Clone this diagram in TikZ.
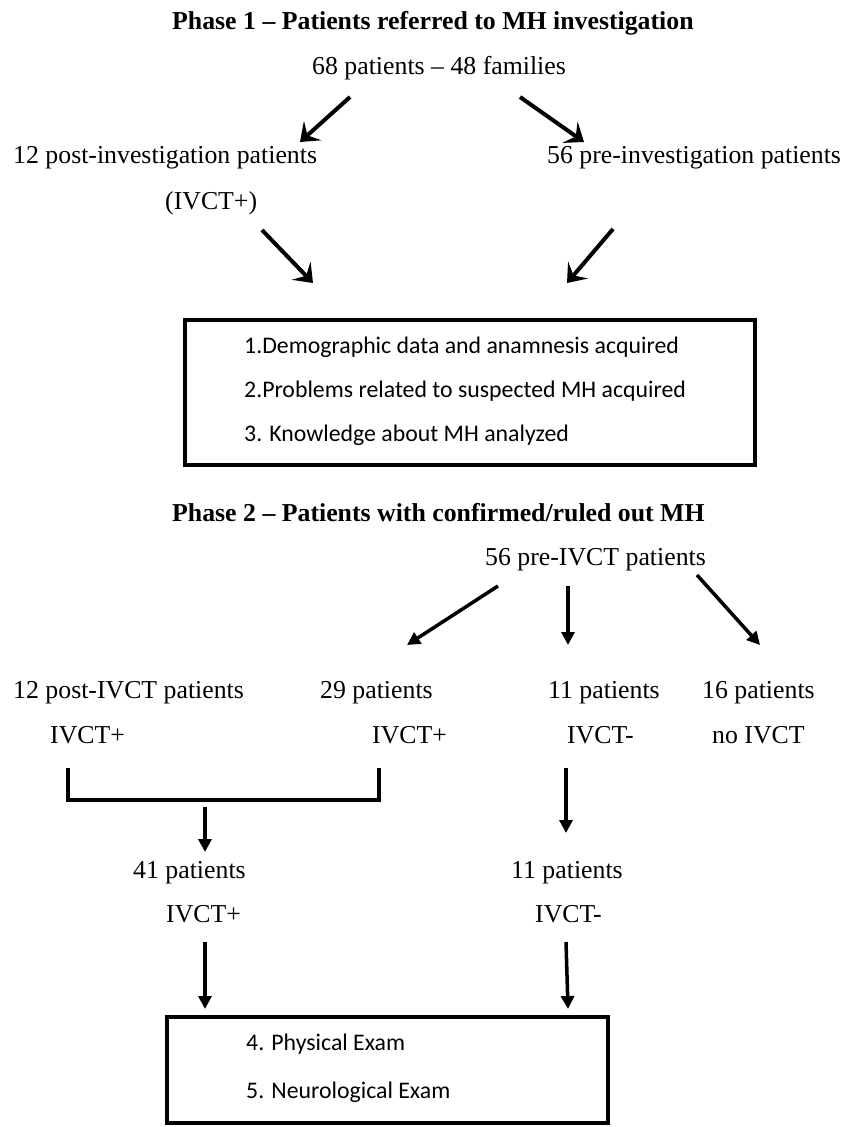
\documentclass[tikz,border=0pt]{standalone}
\usepackage{fontspec}
\setmainfont{Liberation Serif}
\newfontfamily\boxfont{Carlito}
\usetikzlibrary{calc,positioning,arrows.meta}

\begin{document}
\begin{tikzpicture}[x=1pt, y=-1pt,
    txt/.style = {anchor=base west, inner sep=0pt, font=\fontsize{25.8}{30}\selectfont},
    ttl/.style = {anchor=base west, inner sep=0pt, font=\fontsize{25.8}{30}\selectfont\bfseries},
    itm/.style = {anchor=base west, inner sep=0pt, font=\boxfont\fontsize{23.8}{28}\selectfont},
    panel/.style = {draw, line width=4.5pt, inner sep=0pt, outer sep=0pt},
    arr/.style = {line width=4pt, -{Stealth[length=17pt, width=26pt, inset=7pt]}},
    arrb/.style = {line width=3.5pt, -{Triangle[length=13pt, width=13pt]}},
    brace/.style = {line width=4pt}]

    \useasboundingbox (0,0) rectangle (843,1127);

        \node[ttl] (title1) at (172,29) {Phase 1 -- Patients referred to MH investigation};
        \node[txt] (n68) at (312,74) {68 patients -- 48 families};
        \node[txt] (post12) at (13,163) {12 post-investigation patients};
        \node[txt] (ivctA) at (165,209) {(IVCT+)};
        \node[txt] (pre56) at (547,163) {56 pre-investigation patients};

        \draw[arr] ($(n68.base west)+(38,23)$) -- ($(post12.base west)+(287,-21)$);
        \draw[arr] ($(n68.base west)+(208,23)$) -- ($(pre56.base west)+(37,-21)$);

        \node[panel, minimum width=570pt, minimum height=145pt] (box1) at (470,392.5) {};
        \node[itm] (item1) at (244,353) {1.Demographic data and anamnesis acquired};
        \node[itm] (item2) at (244,397) {2.Problems related to suspected MH acquired};
        \node[itm] (item3) at (244,441) {3. Knowledge about MH analyzed};

        \draw[arr] ($(ivctA.base west)+(97,21)$) -- ($(box1.north west)+(128,-37)$);
        \draw[arr] ($(pre56.base west)+(66,66)$) -- ($(box1.north east)+(-188,-37)$);

        \node[ttl] (title2) at (172,521) {Phase 2 -- Patients with confirmed/ruled out MH};
        \node[txt] (pre56b) at (485,565) {56 pre-IVCT patients};

        \node[txt] (post12b) at (13,698) {12 post-IVCT patients};
        \node[txt] (ivctB1) at (50,743) {IVCT+};
        \node[txt] (p29) at (320,698) {29 patients};
        \node[txt] (ivctB2) at (372,743) {IVCT+};
        \node[txt] (p11) at (548,698) {11 patients};
        \node[txt] (ivctN) at (567,743) {IVCT-};
        \node[txt] (p16) at (702,698) {16 patients};
        \node[txt] (noivct) at (712,743) {no IVCT};

        \draw[arrb] ($(pre56b.base west)+(13,21)$) -- ($(p29.base west)+(87,-53)$);
        \draw[arrb] ($(pre56b.base west)+(83,21)$) -- ($(p11.base west)+(20,-53)$);
        \draw[arrb] ($(pre56b.base west)+(212,10)$) -- ($(p16.base west)+(58,-53)$);

        \draw[brace] ($(ivctB1.base west)+(18,25)$) |- ($(ivctB2.base west)+(7,57)$) -- ++(0,-32);
        \coordinate (brk) at ($(ivctB1.base west)+(155,57)$);

        \node[txt] (p41) at (133,878) {41 patients};
        \node[txt] (ivctC) at (166,922) {IVCT+};
        \node[txt] (p11b) at (511,878) {11 patients};
        \node[txt] (ivctD) at (535,922) {IVCT-};

        \draw[arrb] ($(brk)+(0,7)$) -- ($(p41.base west)+(72,-26)$);
        \draw[arrb] ($(ivctN.base west)+(-1,25)$) -- ($(p11b.base west)+(55,-45)$);

        \node[panel, minimum width=441pt, minimum height=106pt] (box2) at (387.5,1070) {};
        \node[itm] (item4) at (246,1050) {4. Physical Exam};
        \node[itm] (item5) at (246,1098) {5. Neurological Exam};

        \draw[arrb] ($(ivctC.base west)+(39,20)$) -- ($(box2.north west)+(38,-8)$);
        \draw[arrb] ($(ivctD.base west)+(31,20)$) -- ($(box2.north east)+(-40,-8)$);
    \end{tikzpicture}
\end{document}
